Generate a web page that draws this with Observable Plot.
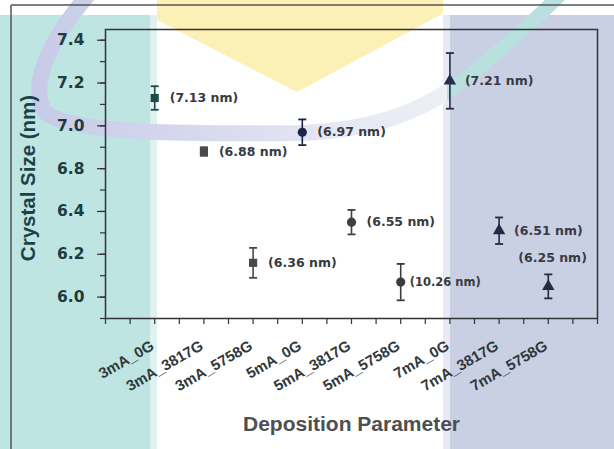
<!DOCTYPE html>
<html>
<head>
<meta charset="utf-8">
<script src="https://cdn.jsdelivr.net/npm/d3@7"></script>
<script src="https://cdn.jsdelivr.net/npm/@observablehq/plot@0.6"></script>
<style>
  html, body { margin: 0; padding: 0; background: #ffffff; }
  #wrap { position: relative; width: 614px; height: 449px; overflow: hidden; }
  #bg { position: absolute; left: 0; top: 0; }
  #chart { position: absolute; left: 0; top: 0; }
</style>
</head>
<body>
<div id="wrap">
  <svg id="bg" width="614" height="449" viewBox="0 0 614 449">
    <defs>
      <clipPath id="clipWhite"><rect x="157" y="0" width="286" height="449"/></clipPath>
      <clipPath id="clipLeft"><rect x="0" y="0" width="447" height="449"/></clipPath>
      <clipPath id="clipRight"><rect x="447" y="0" width="167" height="449"/></clipPath>
      <linearGradient id="arcGrad" gradientUnits="userSpaceOnUse" x1="0" y1="0" x2="447" y2="0">
        <stop offset="0" stop-color="#c4c8e6"/>
        <stop offset="0.35" stop-color="#d2d5ec"/>
        <stop offset="0.7" stop-color="#e3e5f2"/>
        <stop offset="1" stop-color="#eef0f7"/>
      </linearGradient>
    </defs>
    <rect x="0" y="0" width="614" height="449" fill="#ffffff"/>
    <rect x="0" y="15" width="150" height="434" fill="#bee5e2"/>
    <rect x="150" y="15" width="7" height="434" fill="#e0f2f0"/>
    <rect x="443" y="15" width="7" height="434" fill="#e7eaf4"/>
    <rect x="450" y="15" width="164" height="434" fill="#c9d0e4"/>
    <polygon points="118,0 468,0 297,92" fill="#fbf1b6" clip-path="url(#clipWhite)"/>
    <path d="M 88 -5 C 50 40, 28 85, 45 112 C 70 135, 200 134, 300 133 C 380 130, 430 108, 470 75 C 500 50, 530 25, 560 -5"
          fill="none" stroke="url(#arcGrad)" stroke-width="16" clip-path="url(#clipLeft)"/>
    <path d="M 88 -5 C 50 40, 28 85, 45 112 C 70 135, 200 134, 300 133 C 380 130, 430 108, 470 75 C 500 50, 530 25, 560 -5"
          fill="none" stroke="#b9dfdf" stroke-width="14" clip-path="url(#clipRight)"/>
    <line x1="11" y1="5" x2="614" y2="5" stroke="#555" stroke-width="1.5"/>
    <line x1="11" y1="5" x2="11" y2="449" stroke="#555" stroke-width="1.5"/>
  </svg>
  <div id="chart"></div>
</div>
<script>
// ---- data ----
const params = ["3mA_0G", "3mA_3817G", "3mA_5758G", "5mA_0G", "5mA_3817G", "5mA_5758G", "7mA_0G", "7mA_3817G", "7mA_5758G"];
const crystalSize = [7.13, 6.88, 6.36, 6.97, 6.55, 6.27, 7.21, 6.51, 6.25];
const errorBar = [0.055, 0.02, 0.07, 0.06, 0.057, 0.085, 0.13, 0.062, 0.056];
const sizeLabels = ["(7.13 nm)", "(6.88 nm)", "(6.36 nm)", "(6.97 nm)", "(6.55 nm)", "(10.26 nm)", "(7.21 nm)", "(6.51 nm)", "(6.25 nm)"];
const groups = ["3mA", "5mA", "7mA"];
const yTickValues = [6.2, 6.4, 6.6, 6.8, 7.0, 7.2, 7.4];
const yTickLabels = ["6.0", "6.2", "6.4", "6.8", "7.0", "7.2", "7.4"];
const yTitle = "Crystal Size (nm)";
const xTitle = "Deposition Parameter";

const rows = params.map((p, i) => ({
  param: p,
  group: p.split("_")[0],
  idx: i + 1,
  size: crystalSize[i],
  err: errorBar[i],
  label: sizeLabels[i]
}));

const capSymbol = {
  draw(context, size) {
    const w = Math.sqrt(size / Math.PI);
    context.moveTo(-w, 0);
    context.lineTo(w, 0);
  }
};

const labelFont = {fontFamily: "DejaVu Sans", fontWeight: "bold", fontSize: 12.5, fill: "#383b40"};

const chart = Plot.plot({
  width: 614,
  height: 449,
  marginLeft: 105,
  marginRight: 17,
  marginTop: 29,
  marginBottom: 131,
  style: {background: "transparent", color: "#333", overflow: "visible"},
  x: {type: "linear", domain: [0, 10], axis: null, label: null},
  y: {domain: [6.1, 7.45], axis: null, label: null},
  color: {
    domain: params,
    range: ["#1f4a48", "#4a4a4a", "#484848", "#1c2546", "#3f3f3f", "#3c3c3c", "#252e4a", "#222a46", "#222a46"]
  },
  symbol: {domain: groups, range: ["square", "circle", "triangle"]},
  marks: [
    // axis ticks
    Plot.axisX(d3.range(0, 21).map(i => i / 2), {anchor: "bottom", label: null, tickSize: 6, tickFormat: () => "", strokeWidth: 1.2}),
    Plot.axisY(d3.range(61, 75).map(v => v / 10), {anchor: "left", label: null, tickSize: 5, tickFormat: () => "", strokeWidth: 1.2}),
    Plot.axisY(yTickValues, {anchor: "left", label: null, tickSize: 8, tickFormat: () => "", strokeWidth: 1.2}),
    // y tick labels
    Plot.text(yTickValues, {
      y: d => d, text: (d, i) => yTickLabels[i], frameAnchor: "left", dx: -21,
      textAnchor: "end", lineAnchor: "middle",
      fontFamily: "DejaVu Sans", fontWeight: "bold", fontSize: 15.5, fill: "#1d3c40"
    }),
    // x tick labels
    Plot.text(params, {
      x: (d, i) => i + 1, text: d => d, frameAnchor: "bottom", dx: -2, dy: 26,
      rotate: -30, textAnchor: "end", lineAnchor: "middle",
      fontFamily: "Liberation Sans", fontWeight: "bold", fontSize: 15, fill: "#30383b"
    }),
    // axis titles
    Plot.text([yTitle], {
      text: d => d, frameAnchor: "left", dx: -77, dy: 4, rotate: -90,
      textAnchor: "middle", lineAnchor: "middle",
      fontFamily: "Liberation Sans", fontWeight: "bold", fontSize: 20.5, fill: "#1d4148"
    }),
    Plot.text([xTitle], {
      text: d => d, frameAnchor: "bottom", dy: 106, textAnchor: "middle", lineAnchor: "middle",
      fontFamily: "Liberation Sans", fontWeight: "bold", fontSize: 21, fill: "#4e4f52"
    }),
    // error bars
    Plot.ruleX(rows, {x: "idx", y1: d => d.size - d.err, y2: d => d.size + d.err, stroke: "param", strokeWidth: 1.6}),
    Plot.dot(rows, {x: "idx", y: d => d.size + d.err, symbol: capSymbol, r: 4, fill: "none", stroke: "param", strokeWidth: 1.8}),
    Plot.dot(rows, {x: "idx", y: d => d.size - d.err, symbol: capSymbol, r: 4, fill: "none", stroke: "param", strokeWidth: 1.8}),
    // markers
    Plot.dot(rows, {x: "idx", y: "size", symbol: "group", fill: "param", r: 4.6}),
    // value labels
    Plot.text(rows.filter(d => d.idx !== 6 && d.idx !== 9), {x: "idx", y: "size", text: "label", dx: 15, textAnchor: "start", lineAnchor: "middle", ...labelFont}),
    Plot.text(rows.filter(d => d.idx === 6), {x: "idx", y: "size", text: "label", dx: 9, textAnchor: "start", lineAnchor: "middle", ...labelFont, fontSize: 11.5}),
    Plot.text(rows.filter(d => d.idx === 9), {x: "idx", y: "size", text: "label", dx: -30, dy: -28, textAnchor: "start", lineAnchor: "middle", ...labelFont}),
    Plot.frame({stroke: "#333", strokeWidth: 1.5})
  ]
});
document.getElementById("chart").appendChild(chart);
</script>
</body>
</html>
